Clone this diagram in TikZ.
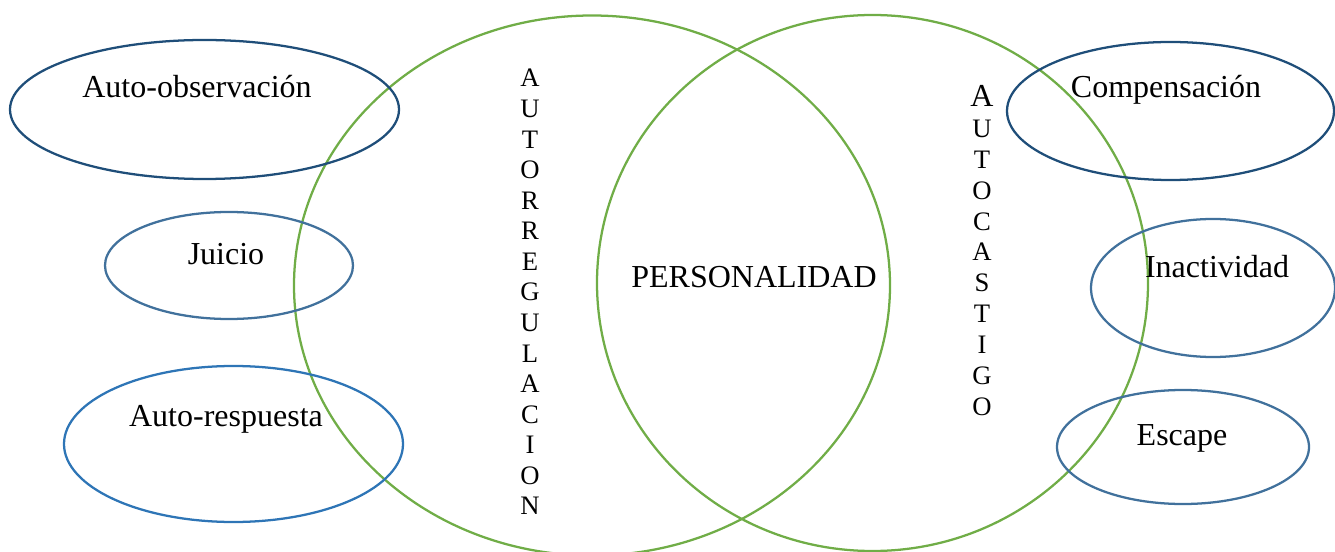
\documentclass[tikz,border=0pt]{standalone}
\usepackage{fontspec}
\setmainfont{Liberation Serif}
\usetikzlibrary{shapes.geometric}
\definecolor{circgreen}{HTML}{70AD47}
\definecolor{darkoval}{HTML}{1F4E79}
\definecolor{midoval}{HTML}{41719C}
\definecolor{lightoval}{HTML}{2E75B6}

\tikzset{
  oval/.style 2 args={ellipse, draw, line width=1.7pt, inner sep=0pt,
    minimum width=#1*1.5pt, minimum height=#2*1.5pt},
  word/.style={anchor=base, inner sep=0pt, font=\fontsize{24}{28}\selectfont},
  letter/.style={anchor=base, inner sep=0pt, font=\fontsize{20}{24}\selectfont}
}

\begin{document}
\begin{tikzpicture}[x=0.75pt, y=-0.75pt]
  \useasboundingbox (0,0) rectangle (1335,552);
  % the two big circles
  \node[oval={298}{270}, draw=circgreen] (regul) at (592,285.5) {};
  \node[oval={275.5}{268}, draw=circgreen] (castigo) at (872.5,283) {};
  % left ovals
  \node[oval={194.5}{69.5}, draw=darkoval] (obs) at (204.5,109.5) {};
  \node[oval={124}{53.5}, draw=midoval] (juicio) at (229,265.5) {};
  \node[oval={169.5}{78}, draw=lightoval] (resp) at (233.5,444) {};
  % right ovals
  \node[oval={163.5}{69}, draw=darkoval] (comp) at (1170.5,111) {};
  \node[oval={122}{69}, draw=midoval] (inact) at (1213,288) {};
  \node[oval={126}{57}, draw=midoval] (escape) at (1183,447) {};
  % texts
  \node[word] (tobs) at (197,98) {Auto-observación};
  \node[word] (tjuicio) at (226,265) {Juicio};
  \node[word] (tresp) at (226,426) {Auto-respuesta};
  \node[word] (tcomp) at (1166,98) {Compensación};
  \node[word] (tinact) at (1217,277) {Inactividad};
  \node[word] (tescape) at (1182,445) {Escape};
  \node[word] (tpers) at (754,288) {PERSONALIDAD};
  % vertical words
  \foreach \l [count=\i] in {A,U,T,O,R,R,E,G,U,L,A,C,I,O,N}
    \node[letter] (ar\i) at (530,{87+(\i-1)*30.57}) {\l};
  \node[word] (ac1) at (982,107) {A};
  \foreach \l [count=\i from 2] in {U,T,O,C,A,S,T,I,G,O}
    \node[letter] (ac\i) at (982,{107+(\i-1)*30.8}) {\l};
\end{tikzpicture}
\end{document}
